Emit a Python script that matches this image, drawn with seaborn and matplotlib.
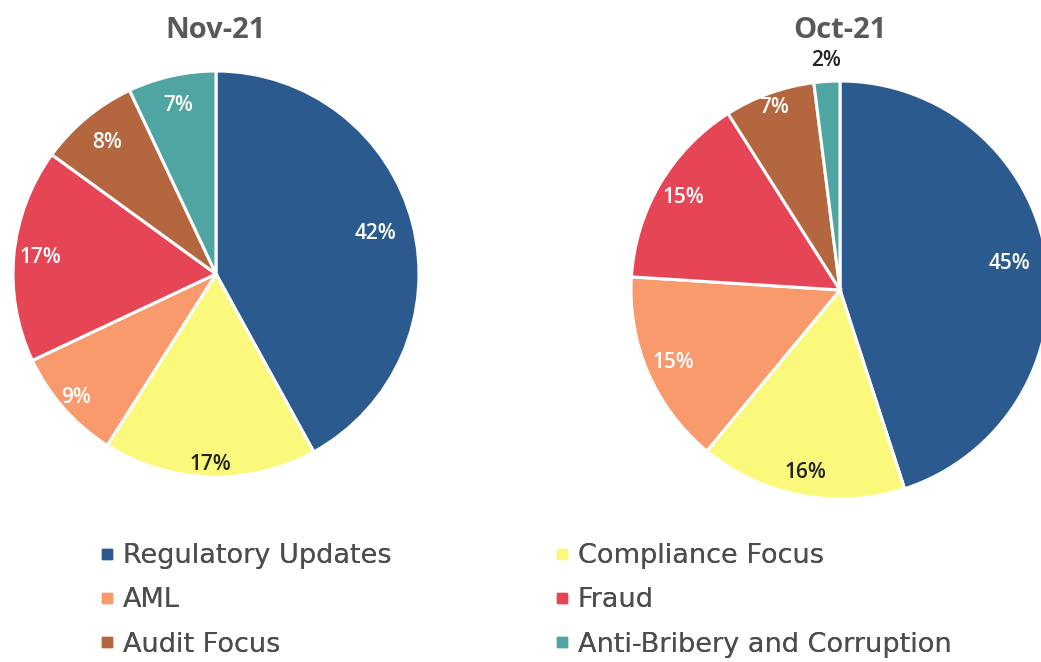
import numpy as np
import matplotlib
matplotlib.use("Agg")
import matplotlib.pyplot as plt
from matplotlib.lines import Line2D
import seaborn as sns

categories = ["Regulatory Updates", "Compliance Focus", "AML", "Fraud",
              "Audit Focus", "Anti-Bribery and Corruption"]
nov_values = [42, 17, 9, 17, 8, 7]
oct_values = [45, 16, 15, 15, 7, 2]
titles = ["Nov-21", "Oct-21"]

sns.set_theme(style="white")
plt.rcParams['font.family'] = ['Open Sans', 'DejaVu Sans']

palette = sns.color_palette(["#2b5b8e", "#fbf97c", "#f99a6c", "#e64556",
                             "#b4663f", "#4fa5a2"])
label_colors = ["white", "#222222", "white", "white", "white", "white"]

W, H = 1041, 662
fig = plt.figure(figsize=(W / 100, H / 100), dpi=100)
fig.patch.set_facecolor("white")


def add_pie(cx, cy, r, values, title, dists, colors_txt):
    ax = fig.add_axes([(cx - r) / W, (H - cy - r) / H, 2 * r / W, 2 * r / H])
    wedges, _ = ax.pie(values, colors=palette, startangle=90, counterclock=False,
                       wedgeprops=dict(edgecolor="white", linewidth=2.2))
    total = sum(values)
    for w, v, d, c in zip(wedges, values, dists, colors_txt):
        ang = np.deg2rad((w.theta1 + w.theta2) / 2)
        ax.text(d * np.cos(ang), d * np.sin(ang), f"{round(100 * v / total)}%",
                ha="center", va="center", fontsize=15, fontweight="semibold",
                color=c)
    ax.set_xlim(-1, 1)
    ax.set_ylim(-1, 1)
    ax.set_aspect("equal")
    ax.axis("off")
    fig.text(cx / W, 1 - 30 / H, title, ha="center", va="center",
             fontsize=21, fontweight="bold", color="#595959")
    return wedges


add_pie(216, 274, 203, nov_values, titles[0],
        [0.81, 0.94, 0.92, 0.87, 0.84, 0.85], label_colors)
oct_colors = list(label_colors)
oct_colors[5] = "#222222"
add_pie(840, 290, 209, oct_values, titles[1],
        [0.82, 0.89, 0.87, 0.87, 0.93, 1.10], oct_colors)

handles = [Line2D([], [], marker="s", linestyle="", color=palette[i], markersize=7)
           for i in range(len(categories))]

col1 = [0, 2, 4]
col2 = [1, 3, 5]
for idx, x0 in ((col1, 101), (col2, 556)):
    leg = fig.legend([handles[i] for i in idx], [categories[i] for i in idx],
                     loc="upper left", bbox_to_anchor=(x0 / W, 1 - 543 / H),
                     frameon=False, prop={"family": "DejaVu Sans", "size": 19.5},
                     labelcolor="#4d4d4d",
                     handlelength=0.45, handletextpad=0.35, labelspacing=0.68,
                     borderpad=0, borderaxespad=0)
    fig.add_artist(leg)

fig.savefig("out.png", dpi=100, facecolor="white")
